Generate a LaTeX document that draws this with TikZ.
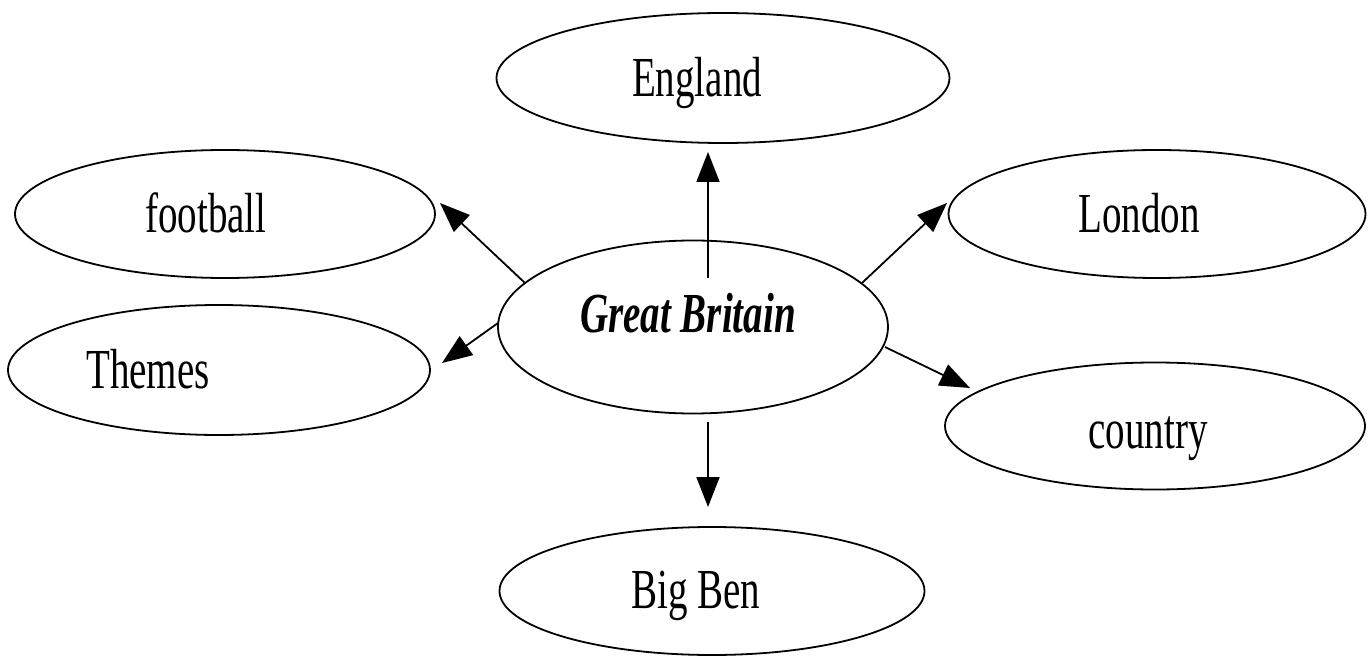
\documentclass[tikz,border=0pt]{standalone}
\usepackage{fontspec}
\setmainfont{Liberation Serif}
\usetikzlibrary{shapes.geometric,arrows.meta}
\begin{document}
\begin{tikzpicture}[x=1pt,y=1pt,
  oval/.style={draw=black,line width=1.8pt,ellipse,inner sep=0pt},
  lbl/.style={anchor=base,inner sep=0pt,font=\fontsize{39}{45}\selectfont},
  arr/.style={line width=1.8pt,-{Triangle[length=30pt,width=23pt]}}]
\useasboundingbox[fill=white] (0,0) rectangle (1368,657);
% ellipses
\node[oval,minimum width=453pt,minimum height=130pt] (eng) at (723,579) {};
\node[oval,minimum width=420pt,minimum height=128pt] (foot) at (225,443) {};
\node[oval,minimum width=417pt,minimum height=128pt] (lon) at (1157,443) {};
\node[oval,minimum width=390pt,minimum height=173pt] (gb) at (693,330) {};
\node[oval,minimum width=422pt,minimum height=130pt] (them) at (219,287) {};
\node[oval,minimum width=420pt,minimum height=127pt] (coun) at (1155,231) {};
\node[oval,minimum width=425pt,minimum height=128pt] (bb) at (712,66) {};
% labels
\node[lbl] (tEng) at (697,560) {\scalebox{1}[1.45]{England}};
\node[lbl] (tFoot) at (206,424) {\scalebox{1}[1.45]{football}};
\node[lbl] (tLon) at (1139,424) {\scalebox{1}[1.45]{London}};
\node[lbl] (tGb) at (688,325) {\scalebox{1}[1.45]{\bfseries\itshape Great Britain}};
\node[lbl] (tThem) at (148,269) {\scalebox{1}[1.45]{Themes}};
\node[lbl] (tCoun) at (1148,209) {\scalebox{1}[1.45]{country}};
\node[lbl] (tBb) at (696,49) {\scalebox{1}[1.45]{Big Ben}};
% connector ends
\coordinate (sEng) at (708,379);  \coordinate (eEng) at (708,505);
\coordinate (sFoot) at (525,374); \coordinate (eFoot) at (440,454);
\coordinate (sLon) at (862,374);  \coordinate (eLon) at (947,454);
\coordinate (sThem) at (498,334); \coordinate (eThem) at (442,294);
\coordinate (sCoun) at (885,310); \coordinate (eCoun) at (970,269);
\coordinate (sBb) at (708,235);   \coordinate (eBb) at (708,150);
% connectors
\draw[arr] (sEng) -- (eEng);
\draw[arr] (sFoot) -- (eFoot);
\draw[arr] (sLon) -- (eLon);
\draw[arr] (sThem) -- (eThem);
\draw[arr] (sCoun) -- (eCoun);
\draw[arr] (sBb) -- (eBb);
\end{tikzpicture}
\end{document}
